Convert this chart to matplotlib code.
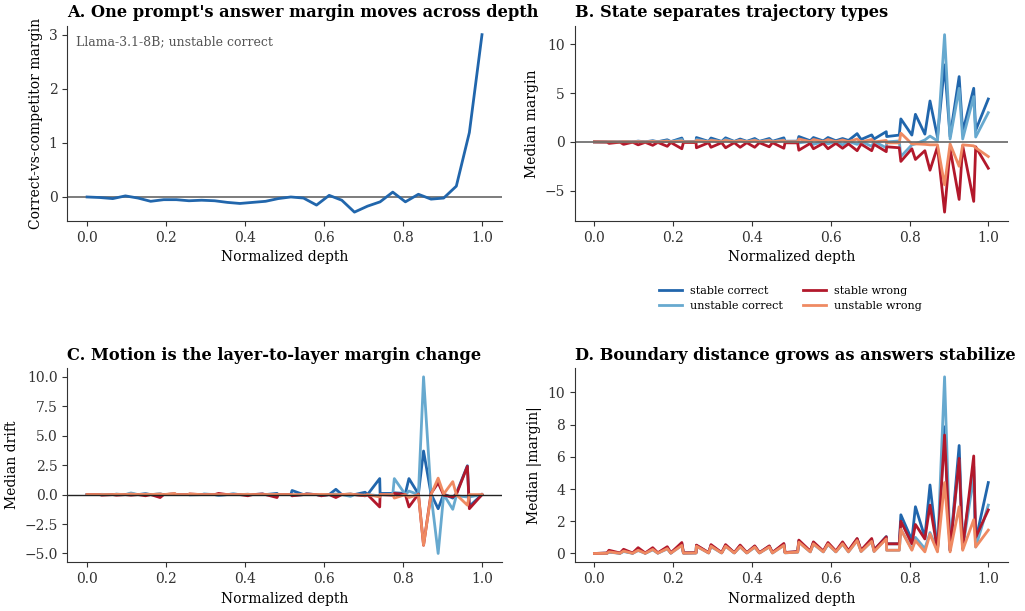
import numpy as np
import matplotlib
matplotlib.use("Agg")
import matplotlib.pyplot as plt

plt.rcParams['font.family'] = ['DejaVu Serif']

# --- panel A: single prompt (Llama-3.1-8B, 32 layers) ---
depth_a = [0.000, 0.032, 0.065, 0.097, 0.129, 0.161, 0.194, 0.226, 0.258, 0.290, 0.323,
           0.355, 0.387, 0.419, 0.452, 0.484, 0.516, 0.548, 0.581, 0.613, 0.645, 0.677,
           0.710, 0.742, 0.774, 0.806, 0.839, 0.871, 0.903, 0.935, 0.968, 1.000]
margin_a = [0.00, -0.01, -0.03, 0.02, -0.02, -0.08, -0.05, -0.05, -0.07, -0.06, -0.07,
            -0.10, -0.12, -0.10, -0.08, -0.03, 0.00, -0.02, -0.15, 0.03, -0.06, -0.28,
            -0.17, -0.09, 0.09, -0.09, 0.05, -0.04, -0.02, 0.20, 1.19, 3.00]

# --- panels B-D: pooled normalized depth grid ---
depth = [0.000, 0.032, 0.037, 0.065, 0.074, 0.097, 0.111, 0.129, 0.148, 0.161,
         0.185, 0.194, 0.222, 0.226, 0.258, 0.259, 0.290, 0.296, 0.323, 0.333,
         0.355, 0.370, 0.387, 0.407, 0.419, 0.444, 0.452, 0.481, 0.484, 0.516,
         0.519, 0.548, 0.556, 0.581, 0.593, 0.613, 0.630, 0.645, 0.667, 0.677,
         0.704, 0.710, 0.741, 0.742, 0.774, 0.778, 0.806, 0.815, 0.839, 0.852,
         0.871, 0.889, 0.903, 0.926, 0.935, 0.963, 0.968, 1.000]

# median margin
margin_sc = [0.00, 0.00, 0.03, 0.00, 0.05, 0.00, 0.08, 0.01, 0.12, 0.02,
             0.22, 0.03, 0.40, 0.03, 0.04, 0.45, 0.05, 0.40, 0.05, 0.42,
             0.05, 0.30, 0.06, 0.35, 0.06, 0.35, 0.06, 0.42, 0.07, 0.08,
             0.55, 0.12, 0.45, 0.10, 0.45, 0.12, 0.35, 0.15, 0.85, 0.25,
             0.72, 0.30, 1.05, 0.55, 0.70, 2.36, 0.70, 2.83, 0.80, 4.20,
             0.50, 7.90, 0.55, 6.70, 1.05, 5.50, 1.20, 4.40]
margin_uc = [0.00, 0.00, 0.02, 0.00, 0.03, 0.00, 0.05, 0.00, 0.06, 0.01,
             0.12, 0.01, 0.25, 0.01, 0.02, 0.25, 0.02, 0.20, 0.02, 0.25,
             0.02, 0.15, 0.02, 0.20, 0.02, 0.20, 0.02, 0.20, 0.02, 0.03,
             -0.10, 0.05, -0.25, 0.05, -0.20, 0.05, -0.30, 0.05, -0.25, 0.05,
             -0.45, 0.05, -0.60, 0.00, 0.10, -1.50, -0.30, -0.20, 0.20, 0.60,
             0.10, 11.00, 0.30, 5.50, 0.30, 4.65, 0.50, 3.00]
margin_sw = [0.00, -0.02, -0.15, -0.03, -0.25, -0.03, -0.30, -0.04, -0.35, -0.05,
             -0.45, -0.06, -0.70, -0.06, -0.07, -0.60, -0.08, -0.55, -0.08, -0.60,
             -0.08, -0.55, -0.08, -0.55, -0.08, -0.50, -0.08, -0.65, -0.09, -0.10,
             -0.85, -0.15, -0.70, -0.15, -0.70, -0.15, -0.65, -0.20, -0.90, -0.22,
             -0.90, -0.25, -1.00, -0.50, -0.60, -2.00, -0.70, -1.80, -0.90, -2.90,
             -0.50, -7.20, -0.70, -5.90, -0.40, -6.10, -0.50, -2.70]
margin_uw = [0.00, 0.00, 0.02, 0.00, 0.03, 0.00, 0.03, 0.00, 0.05, 0.00,
             0.08, 0.01, 0.10, 0.01, 0.01, 0.15, 0.02, 0.15, 0.02, 0.15,
             0.02, 0.15, 0.02, 0.15, 0.02, 0.15, 0.02, 0.15, 0.02, 0.02,
             0.30, 0.03, 0.25, 0.03, 0.25, 0.03, 0.20, 0.03, 0.30, 0.00,
             0.25, 0.00, 0.15, -0.10, -0.10, 0.90, -0.20, -0.20, -0.25, -0.30,
             -0.30, -4.40, -0.20, -2.50, -0.30, -0.40, -0.60, -1.50]

# median drift (layer-to-layer margin change)
drift_sc = [0.00, 0.00, 0.02, 0.00, 0.03, 0.00, 0.05, 0.00, 0.08, 0.00,
            0.05, 0.00, 0.05, 0.00, 0.00, 0.02, 0.00, 0.03, 0.00, -0.05,
            0.00, 0.05, 0.00, 0.03, 0.00, 0.05, 0.00, 0.10, 0.00, 0.00,
            0.35, 0.00, 0.05, 0.00, -0.05, 0.00, 0.45, 0.00, 0.05, 0.00,
            0.20, 0.00, 1.36, 0.10, 0.10, 0.15, 0.10, 1.36, 0.05, 3.70,
            0.05, -1.20, 0.05, -0.30, 0.10, 2.45, -1.00, 0.00]
drift_uc = [0.00, 0.00, 0.02, 0.00, 0.03, 0.00, 0.14, 0.00, 0.03, 0.00,
            0.05, 0.00, 0.00, 0.00, 0.00, -0.03, 0.00, 0.05, 0.00, -0.05,
            0.00, 0.05, 0.00, 0.00, 0.00, 0.00, 0.00, -0.10, 0.00, 0.00,
            -0.10, 0.00, 0.05, 0.00, -0.10, 0.00, 0.05, 0.00, -0.15, 0.00,
            -0.10, 0.00, -0.10, 0.00, 0.00, 1.36, 0.00, 0.30, 0.00, 10.00,
            0.00, -5.00, 0.00, -1.25, -0.10, -0.20, -0.20, 0.00]
drift_sw = [0.00, 0.00, -0.05, 0.00, -0.05, 0.00, -0.05, 0.00, -0.10, 0.00,
            -0.25, 0.00, 0.05, 0.00, 0.00, 0.05, 0.00, 0.00, 0.00, 0.10,
            0.00, 0.00, 0.00, -0.10, 0.00, 0.05, 0.00, -0.25, 0.00, 0.00,
            -0.10, 0.00, 0.05, 0.00, -0.10, 0.00, -0.25, 0.00, 0.00, 0.00,
            -0.10, 0.00, -1.05, 0.00, -0.05, 0.10, 0.00, -1.05, 0.05, -4.30,
            0.10, 1.00, -0.05, -0.20, 0.00, 2.40, -1.20, 0.00]
drift_uw = [0.00, 0.00, 0.00, 0.00, 0.02, 0.00, 0.05, 0.00, 0.03, 0.00,
            0.05, 0.00, 0.10, 0.00, 0.00, 0.05, 0.00, 0.00, 0.00, 0.00,
            0.00, 0.00, 0.00, 0.02, 0.00, 0.00, 0.00, 0.02, 0.00, 0.00,
            0.00, 0.00, 0.00, 0.00, 0.02, 0.00, 0.00, 0.00, 0.05, 0.00,
            -0.05, 0.00, -0.20, 0.00, 0.00, -0.30, 0.00, -0.25, 0.00, -4.30,
            0.00, 1.40, 0.05, 1.10, 0.00, -0.90, 0.00, 0.00]

# median |margin|
abs_sc = [0.00, 0.02, 0.10, 0.02, 0.15, 0.02, 0.25, 0.02, 0.28, 0.03,
          0.35, 0.03, 0.60, 0.03, 0.04, 0.50, 0.05, 0.50, 0.05, 0.50,
          0.05, 0.48, 0.05, 0.45, 0.05, 0.45, 0.05, 0.58, 0.06, 0.10,
          0.78, 0.12, 0.68, 0.12, 0.62, 0.12, 0.65, 0.15, 0.90, 0.18,
          0.85, 0.20, 1.05, 0.60, 0.60, 2.40, 0.83, 2.90, 1.00, 4.25,
          0.20, 7.86, 0.20, 6.70, 0.50, 5.40, 0.80, 4.40]
abs_uc = [0.00, 0.01, 0.08, 0.01, 0.12, 0.01, 0.18, 0.01, 0.22, 0.02,
          0.28, 0.02, 0.50, 0.02, 0.03, 0.45, 0.03, 0.42, 0.03, 0.45,
          0.03, 0.40, 0.03, 0.38, 0.03, 0.40, 0.03, 0.50, 0.04, 0.08,
          0.70, 0.10, 0.58, 0.10, 0.55, 0.10, 0.58, 0.10, 0.80, 0.12,
          0.75, 0.12, 0.95, 0.20, 0.20, 1.50, 0.25, 1.00, 0.30, 1.30,
          0.20, 10.96, 0.20, 5.80, 0.30, 4.80, 0.40, 3.00]
abs_sw = [0.00, 0.03, 0.20, 0.03, 0.26, 0.03, 0.36, 0.03, 0.36, 0.04,
          0.42, 0.04, 0.68, 0.04, 0.05, 0.52, 0.05, 0.55, 0.05, 0.55,
          0.05, 0.52, 0.05, 0.47, 0.05, 0.47, 0.06, 0.62, 0.06, 0.12,
          0.83, 0.15, 0.72, 0.15, 0.68, 0.15, 0.72, 0.18, 0.93, 0.20,
          0.93, 0.22, 1.03, 0.60, 0.60, 2.00, 0.60, 1.80, 0.90, 3.00,
          0.20, 7.35, 0.20, 5.90, 0.30, 6.05, 1.00, 2.70]
abs_uw = [0.00, 0.01, 0.10, 0.01, 0.15, 0.01, 0.20, 0.01, 0.25, 0.02,
          0.30, 0.02, 0.50, 0.02, 0.03, 0.45, 0.03, 0.45, 0.03, 0.45,
          0.03, 0.42, 0.03, 0.40, 0.03, 0.40, 0.03, 0.50, 0.04, 0.08,
          0.70, 0.10, 0.60, 0.10, 0.58, 0.10, 0.60, 0.10, 0.80, 0.12,
          0.75, 0.12, 0.90, 0.20, 0.20, 1.50, 0.20, 0.80, 0.10, 1.20,
          0.10, 4.40, 0.10, 2.90, 0.20, 2.10, 0.40, 1.45]

labels = ['stable correct', 'unstable correct', 'stable wrong', 'unstable wrong']
colors = ['#2166ac', '#67a9cf', '#b2182b', '#ef8a62']

fig = plt.figure(figsize=(10.25, 6.11), dpi=100)
ax_a = fig.add_axes([0.0657, 0.6383, 0.4238, 0.3195])
ax_b = fig.add_axes([0.5607, 0.6383, 0.4227, 0.3195])
ax_c = fig.add_axes([0.0657, 0.0797, 0.4238, 0.3180])
ax_d = fig.add_axes([0.5607, 0.0797, 0.4227, 0.3180])

def style(ax, title, ylabel):
    ax.set_title(title, loc='left', fontsize=11.7, fontweight='bold', pad=6)
    ax.set_xlabel('Normalized depth', fontsize=10)
    ax.set_ylabel(ylabel, fontsize=10)
    for s in ['top', 'right']:
        ax.spines[s].set_visible(False)
    for s in ['left', 'bottom']:
        ax.spines[s].set_color('#333333')
    ax.tick_params(colors='#333333', labelsize=10)
    ax.set_xticks([0.0, 0.2, 0.4, 0.6, 0.8, 1.0])

# A
ax_a.axhline(0, color='#666666', lw=1.2)
ax_a.plot(depth_a, margin_a, color='#2166ac', lw=2.0)
ax_a.text(0.02, 0.95, 'Llama-3.1-8B; unstable correct', transform=ax_a.transAxes,
          ha='left', va='top', fontsize=9, color='#555555')
style(ax_a, "A. One prompt's answer margin moves across depth", 'Correct-vs-competitor margin')

# B
for vals, lab, c in zip([margin_sc, margin_uc, margin_sw, margin_uw], labels, colors):
    ax_b.plot(depth, vals, color=c, lw=2.0, label=lab)
ax_b.axhline(0, color='#666666', lw=1.2)
style(ax_b, 'B. State separates trajectory types', 'Median margin')

# C
for vals, lab, c in zip([drift_sc, drift_uc, drift_sw, drift_uw], labels, colors):
    ax_c.plot(depth, vals, color=c, lw=2.0)
ax_c.axhline(0, color='#222222', lw=1.0)
ax_c.set_yticks([-5.0, -2.5, 0.0, 2.5, 5.0, 7.5, 10.0])
style(ax_c, 'C. Motion is the layer-to-layer margin change', 'Median drift')

# D
for vals, lab, c in zip([abs_sc, abs_uc, abs_sw, abs_uw], labels, colors):
    ax_d.plot(depth, vals, color=c, lw=2.0)
ax_d.set_yticks([0, 2, 4, 6, 8, 10])
style(ax_d, 'D. Boundary distance grows as answers stabilize', 'Median |margin|')

handles, labs = ax_b.get_legend_handles_labels()
fig.legend(handles, labs, loc='center', bbox_to_anchor=(0.771, 0.5115), ncol=2,
           frameon=False, fontsize=8, handlelength=2.1, handletextpad=0.7,
           columnspacing=1.8, labelspacing=0.45)

fig.savefig('out.png', dpi=100)
